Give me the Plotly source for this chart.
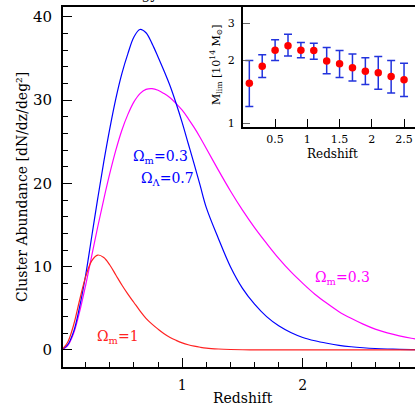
import plotly.graph_objects as go

# ---- main panel data ----
z = [0.0, 0.05, 0.10, 0.15, 0.20, 0.25, 0.30, 0.35, 0.40, 0.45, 0.50, 0.55, 0.60,
     0.65, 0.70, 0.75, 0.80, 0.85, 0.90, 0.95, 1.00, 1.05, 1.10, 1.15, 1.20,
     1.30, 1.40, 1.50, 1.60, 1.70, 1.80, 1.90, 2.00, 2.10, 2.20, 2.30, 2.40,
     2.50, 2.60, 2.70, 2.80, 2.90, 3.00]

abund_om1 = [0.0, 0.9, 3.0, 6.0, 8.8, 10.7, 11.4, 11.1, 10.2, 9.0, 7.8, 6.7, 5.7,
             4.7, 3.8, 3.1, 2.5, 1.95, 1.5, 1.15, 0.85, 0.62, 0.45, 0.32, 0.22,
             0.11, 0.05, 0.02, 0.01, 0.0, 0.0, 0.0, 0.0, 0.0, 0.0, 0.0, 0.0,
             0.0, 0.0, 0.0, 0.0, 0.0, 0.0]

abund_lcdm = [0.0, 0.6, 2.2, 5.2, 9.0, 13.6, 18.2, 22.6, 26.6, 30.2, 33.2, 35.6, 37.6,
              38.5, 38.1, 36.8, 35.2, 33.5, 31.7, 29.6, 27.3, 24.8, 22.3, 19.7, 17.1,
              13.4, 10.0, 7.4, 5.5, 4.0, 2.9, 2.1, 1.5, 1.1, 0.8, 0.55, 0.38,
              0.26, 0.17, 0.11, 0.07, 0.04, 0.03]

abund_open = [0.0, 0.5, 2.0, 4.6, 7.8, 11.3, 14.8, 18.1, 21.2, 24.0, 26.4, 28.3, 29.8,
              30.8, 31.3, 31.4, 31.2, 30.8, 30.3, 29.6, 28.8, 27.8, 26.7, 25.5, 24.2,
              21.6, 19.1, 16.8, 14.7, 12.8, 11.0, 9.4, 8.0, 6.7, 5.6, 4.6, 3.8,
              3.1, 2.5, 2.05, 1.7, 1.4, 1.15]

# ---- inset data ----
z_inset = [0.1, 0.3, 0.5, 0.7, 0.9, 1.1, 1.3, 1.5, 1.7, 1.9, 2.1, 2.3, 2.5]
mlim = [1.55, 1.87, 2.23, 2.34, 2.23, 2.22, 1.98, 1.92, 1.84, 1.77, 1.74, 1.67, 1.61]
mlim_hi = [1.99, 2.12, 2.50, 2.66, 2.43, 2.41, 2.30, 2.22, 2.14, 2.05, 2.08, 1.99, 1.93]
mlim_lo = [1.20, 1.65, 1.99, 2.09, 2.05, 2.02, 1.72, 1.65, 1.59, 1.53, 1.45, 1.39, 1.34]

FONT = "DejaVu Serif"

fig = go.Figure()

fig.add_trace(go.Scatter(x=z, y=abund_open, mode="lines", line=dict(color="#ff00ff", width=1.2, shape="spline"),
                         showlegend=False, xaxis="x", yaxis="y"))
fig.add_trace(go.Scatter(x=z, y=abund_lcdm, mode="lines", line=dict(color="#0000ff", width=1.2, shape="spline"),
                         showlegend=False, xaxis="x", yaxis="y"))
fig.add_trace(go.Scatter(x=z, y=abund_om1, mode="lines", line=dict(color="#ff2222", width=1.2, shape="spline"),
                         showlegend=False, xaxis="x", yaxis="y"))

err_plus = [h - m for h, m in zip(mlim_hi, mlim)]
err_minus = [m - l for m, l in zip(mlim, mlim_lo)]
fig.add_trace(go.Scatter(x=z_inset, y=mlim, mode="markers",
                         marker=dict(color="#ff0000", size=7.5),
                         error_y=dict(type="data", symmetric=False, array=err_plus, arrayminus=err_minus,
                                      color="#2233dd", thickness=1.5, width=4),
                         showlegend=False, xaxis="x2", yaxis="y2"))

axis_common = dict(showgrid=False, zeroline=False, showline=True, linecolor="black", linewidth=2,
                   ticks="inside", tickcolor="black")

fig.update_layout(
    width=415, height=407, autosize=False,
    margin=dict(l=63, r=0, t=7, b=40, pad=0),
    paper_bgcolor="white", plot_bgcolor="white",
    font=dict(family=FONT, color="black"),
    xaxis=dict(domain=[0, 1], range=[0.012, 2.93], tickmode="linear", tick0=0, dtick=1,
               ticklen=9, tickwidth=1.3, mirror=True, ticklabelstandoff=4,
               tickfont=dict(size=14, family=FONT),
               minor=dict(dtick=0.2, tick0=0, ticklen=5, ticks="inside", tickwidth=1.3, tickcolor="black"),
               **axis_common),
    yaxis=dict(domain=[0, 1], range=[-2.05, 41.2], tickmode="linear", tick0=0, dtick=10,
               ticklen=9, tickwidth=1.3, ticklabelstandoff=6,
               tickfont=dict(size=15, family=FONT),
               minor=dict(dtick=2, tick0=0, ticklen=5, ticks="inside", tickwidth=1.3, tickcolor="black"),
               **axis_common),
    xaxis2=dict(domain=[0.511, 1], range=[0, 2.67], anchor="y2",
                tickmode="array", tickvals=[0.5, 1, 1.5, 2, 2.5], ticktext=["0.5", "1", "1.5", "2", "2.5"],
                ticklen=8, tickwidth=1.3, ticklabelstandoff=1,
                tickfont=dict(size=11, family=FONT), **axis_common),
    yaxis2=dict(domain=[0.6667, 1], type="log", range=[-0.019, 0.555], anchor="x2",
                tickmode="array", tickvals=[1, 2, 3], ticktext=["1", "2", "3"],
                ticklen=7, tickwidth=1.3, ticklabelstandoff=4,
                tickfont=dict(size=11, family=FONT),
                showgrid=False, zeroline=False, showline=True, linecolor="black", linewidth=2,
                ticks="inside", tickcolor="#666666"),
)

ann = []
ann.append(dict(text="Redshift", x=0.511, y=-0.086, xref="paper", yref="paper", showarrow=False,
                xanchor="center", yanchor="middle", font=dict(size=14, family=FONT)))
ann.append(dict(text="Cluster Abundance [dN/dz/deg²]", x=-0.1165, y=0.5, xref="paper", yref="paper",
                showarrow=False, textangle=-90, xanchor="center", yanchor="middle",
                font=dict(size=14, family=FONT)))
ann.append(dict(text="M<sub>lim</sub> [10<sup>14</sup> M<sub>⊙</sub>]", x=0.4347, y=0.839, xref="paper", yref="paper",
                showarrow=False, textangle=-90, xanchor="center", yanchor="middle",
                font=dict(size=11, family=FONT)))
ann.append(dict(text="Redshift", x=0.7656, y=0.592, xref="paper", yref="paper", showarrow=False,
                xanchor="center", yanchor="middle", font=dict(size=12, family=FONT)))
ann.append(dict(text="Ω<sub>m</sub>=0.3", x=0.278, y=0.583, xref="paper", yref="paper", showarrow=False,
                xanchor="center", yanchor="middle", font=dict(size=14, family=FONT, color="#0000ff")))
ann.append(dict(text="Ω<sub>Λ</sub>=0.7", x=0.298, y=0.522, xref="paper", yref="paper", showarrow=False,
                xanchor="center", yanchor="middle", font=dict(size=14, family=FONT, color="#0000ff")))
ann.append(dict(text="Ω<sub>m</sub>=0.3", x=0.795, y=0.247, xref="paper", yref="paper", showarrow=False,
                xanchor="center", yanchor="middle", font=dict(size=14, family=FONT, color="#ff00ff")))
ann.append(dict(text="Ω<sub>m</sub>=1", x=0.156, y=0.083, xref="paper", yref="paper", showarrow=False,
                xanchor="center", yanchor="middle", font=dict(size=14, family=FONT, color="#ff2222")))
ann.append(dict(text="Dark Energy", x=0.2756, y=1.0083, xref="paper", yref="paper", showarrow=False,
                xanchor="right", yanchor="bottom", font=dict(size=14, family=FONT)))
fig.update_layout(annotations=ann)

fig.write_html("out.html", config={"displayModeBar": False},
               post_script="document.body.style.margin='0px';document.body.style.overflow='hidden';")
